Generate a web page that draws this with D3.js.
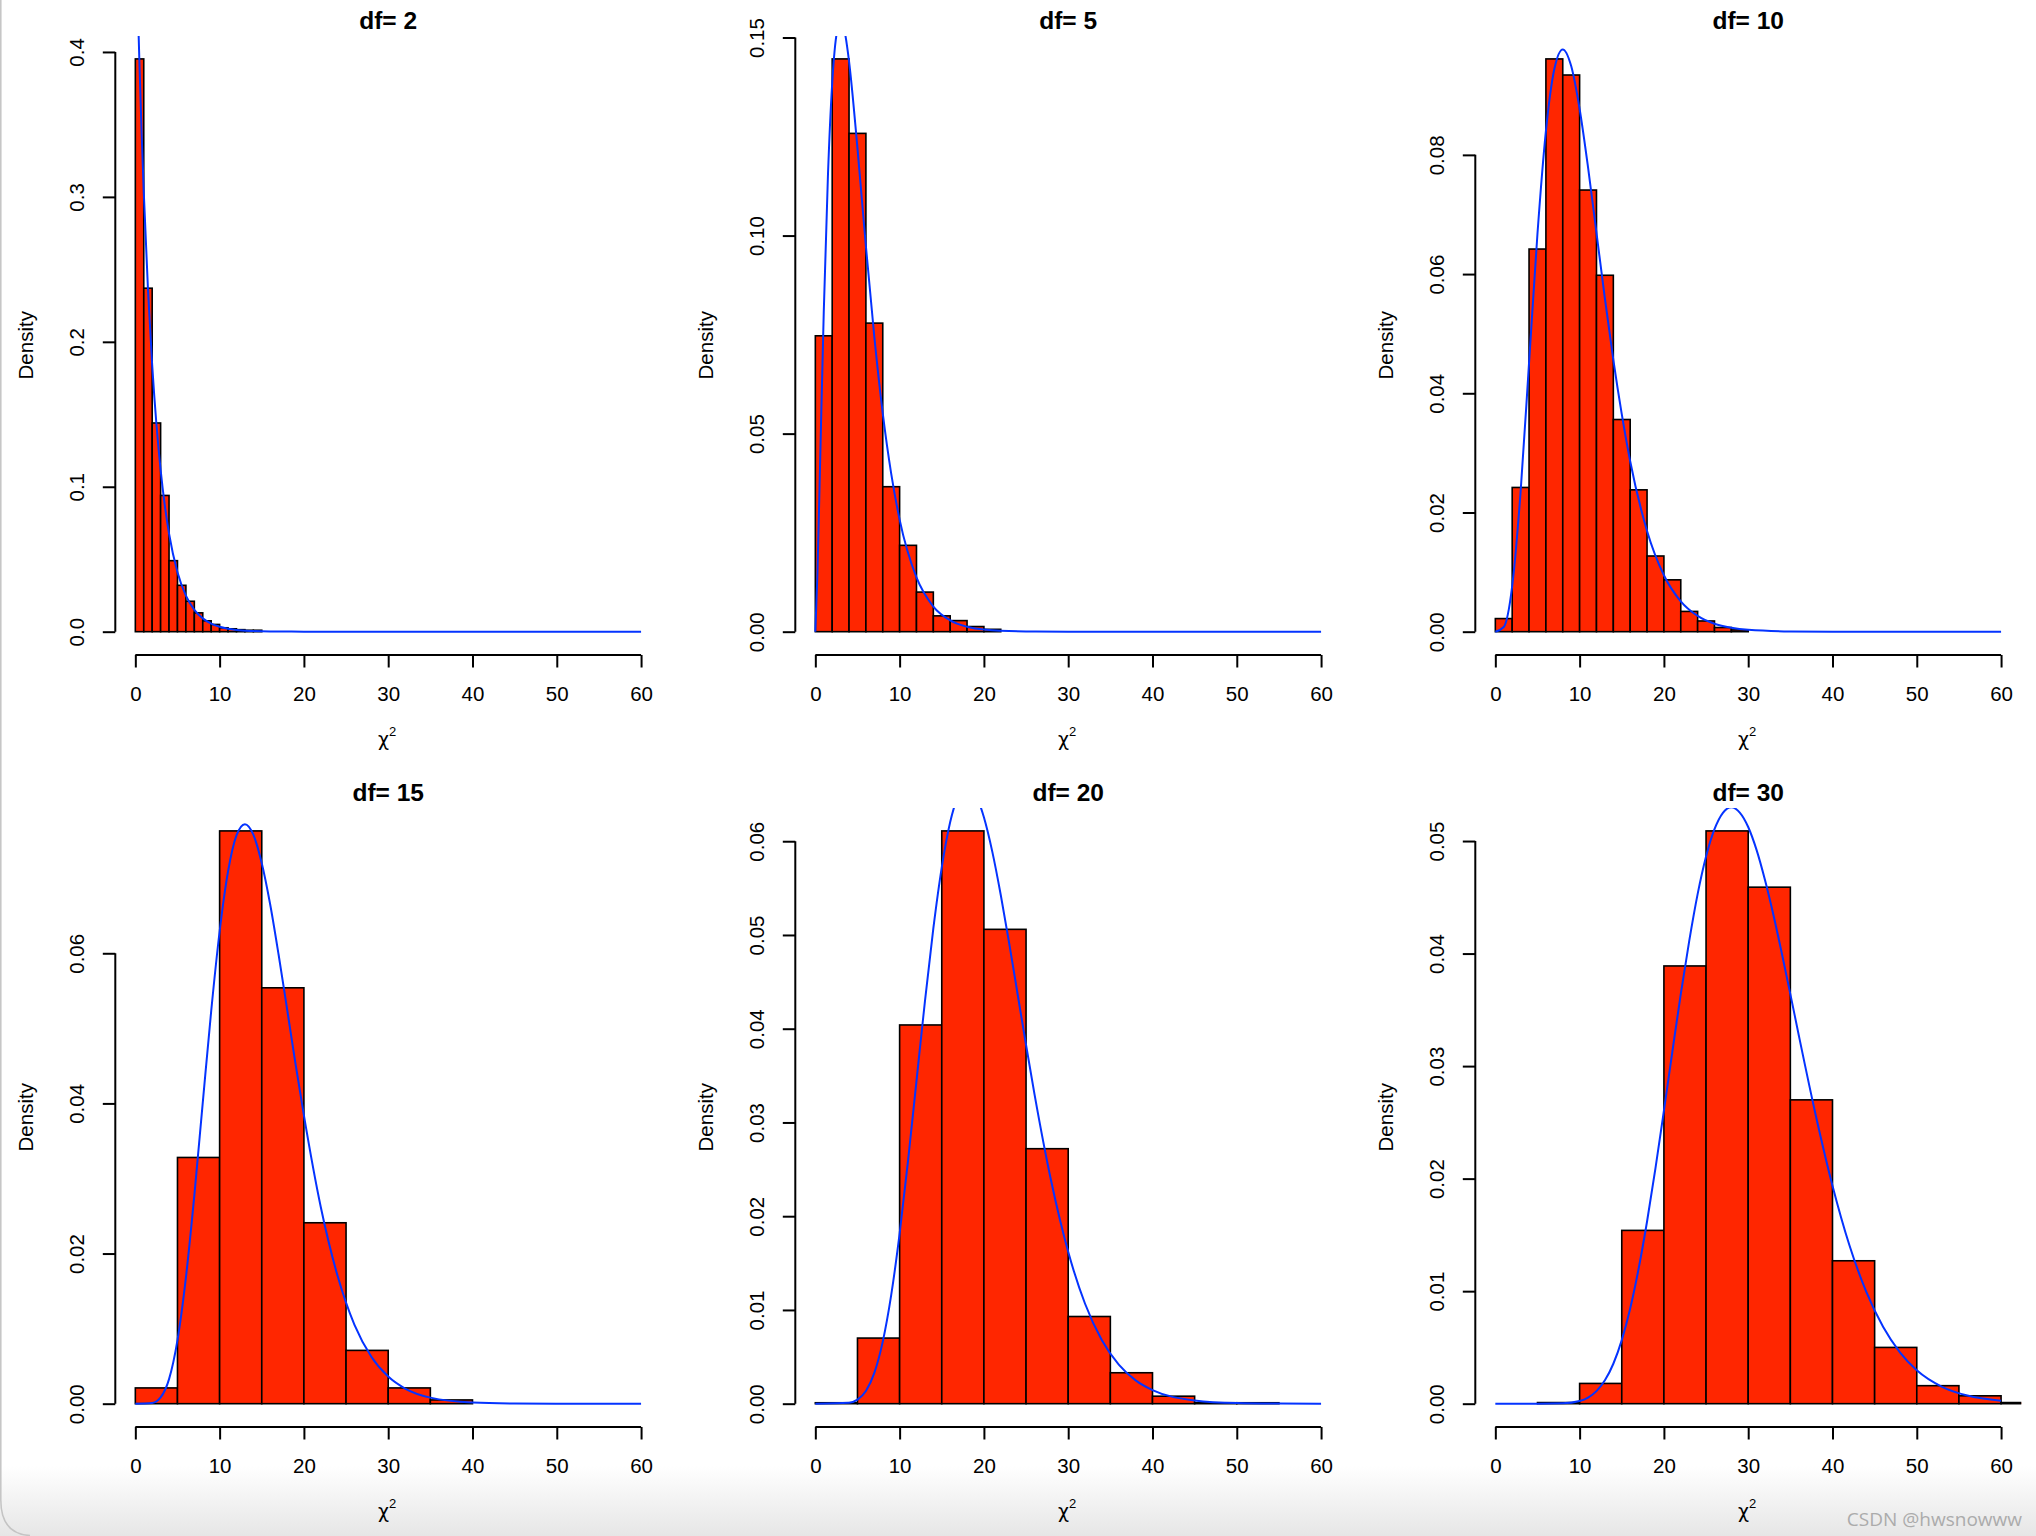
<!DOCTYPE html>
<html><head><meta charset="utf-8">
<script src="https://cdn.jsdelivr.net/npm/d3@7"></script>
<style>
html,body{margin:0;padding:0;background:#fff;}
svg{display:block;}
text{font-family:"Liberation Sans", Arial, Helvetica, sans-serif;}
</style></head><body>
<svg id="chart" width="2036" height="1536"></svg>
<script>
// ---------------- data ----------------
const dfValues = [2, 5, 10, 15, 20, 30];
const titles = ["df= 2", "df= 5", "df= 10", "df= 15", "df= 20", "df= 30"];
const xTicks = [0, 10, 20, 30, 40, 50, 60];
const xLabel = "χ";
const xLabelSup = "2";
const yLabel = "Density";
const watermark = "CSDN @hwsnowww";

// df = 2
const breaks_df2 = [0,1,2,3,4,5,6,7,8,9,10,11,12,13,14,15];
const density_df2 = [0.3952,0.237,0.144,0.094,0.049,0.032,0.021,0.013,0.0075,0.005,0.0027,0.002,0.0014,0.001,0.001];
const curveX_df2 = [0,0.25,0.5,0.75,1,1.5,2,2.5,3,3.5,4,5,6,7,8,9,10,12,14,16,20,25,30,40,50,60];
const curveY_df2 = [0.5,0.4412,0.3894,0.3436,0.3033,0.2362,0.1839,0.1433,0.1116,0.0869,0.0677,0.0410,0.0249,0.0151,0.0092,0.0056,0.0034,0.0012,0.00046,0.00017,0.00002,0,0,0,0,0];
const yTicks_df2 = [0, 0.1, 0.2, 0.3, 0.4];
const yTickLabels_df2 = ["0.0","0.1","0.2","0.3","0.4"];

// df = 5
const breaks_df5 = [0,2,4,6,8,10,12,14,16,18,20,22];
const density_df5 = [0.0747,0.1446,0.1258,0.0779,0.0366,0.0218,0.0100,0.0040,0.0028,0.0013,0.0006];
const curveX_df5 = [0,0.25,0.5,1,1.5,2,2.5,3,3.5,4,5,6,7,8,9,10,12,14,16,18,20,25,30,40,60];
const curveY_df5 = [0,0.0147,0.0366,0.0807,0.1154,0.1384,0.1506,0.1542,0.1513,0.1440,0.1220,0.0973,0.0744,0.0551,0.0399,0.0283,0.0137,0.00635,0.00286,0.00125,0.00054,0.00006,0.000007,0,0];
const yTicks_df5 = [0, 0.05, 0.10, 0.15];
const yTickLabels_df5 = ["0.00","0.05","0.10","0.15"];

// df = 10
const breaks_df10 = [0,2,4,6,8,10,12,14,16,18,20,22,24,26,28,30];
const density_df10 = [0.0022,0.0242,0.0642,0.0961,0.0934,0.0741,0.0598,0.0356,0.0238,0.0127,0.0087,0.0034,0.0018,0.0007,0.0003];
const curveX_df10 = [0,1,2,3,4,5,6,7,8,9,10,11,12,13,14,15,16,18,20,22,24,26,28,30,35,40,60];
const curveY_df10 = [0,0.00079,0.00766,0.0235,0.0451,0.0668,0.0840,0.0944,0.0977,0.0949,0.0877,0.0779,0.0669,0.0559,0.0456,0.0365,0.0286,0.0169,0.00946,0.00509,0.00265,0.00134,0.00067,0.00032,0.00005,0.000005,0];
const yTicks_df10 = [0, 0.02, 0.04, 0.06, 0.08];
const yTickLabels_df10 = ["0.00","0.02","0.04","0.06","0.08"];

// df = 15
const breaks_df15 = [0,5,10,15,20,25,30,35,40];
const density_df15 = [0.0021,0.0328,0.0763,0.0554,0.0241,0.0071,0.0021,0.0005];
const curveX_df15 = [0,2,3,4,5,6,7,8,9,10,11,12,13,14,15,16,17,18,19,20,22,24,26,28,30,32,35,40,45,50,60];
const curveY_df15 = [0,0.0001,0.00083,0.00327,0.00847,0.0168,0.02775,0.0401,0.0523,0.0629,0.0709,0.0757,0.0772,0.0758,0.0720,0.0665,0.0598,0.0526,0.0453,0.0384,0.0262,0.0170,0.0105,0.00626,0.00361,0.00202,0.00081,0.00016,0.00003,0.000005,0];
const yTicks_df15 = [0, 0.02, 0.04, 0.06];
const yTickLabels_df15 = ["0.00","0.02","0.04","0.06"];

// df = 20
const breaks_df20 = [0,5,10,15,20,25,30,35,40,45,50,55];
const density_df20 = [0.0001,0.0070,0.0404,0.0611,0.0506,0.0272,0.0093,0.0033,0.0008,0.0001,0.0001];
const curveX_df20 = [0,4,5,6,7,8,9,10,11,12,13,14,15,16,17,18,19,20,21,22,23,24,25,26,28,30,32,34,36,38,40,45,50,55,60];
const curveY_df20 = [0,0.0001,0.00043,0.00135,0.00328,0.00662,0.01158,0.01813,0.02593,0.03442,0.0429,0.0507,0.05722,0.06204,0.06493,0.06588,0.0650,0.06255,0.05886,0.05426,0.0491,0.04368,0.03826,0.03303,0.02367,0.0162,0.01066,0.00676,0.00416,0.00249,0.00145,0.00035,0.00007,0.000014,0.0000025];
const yTicks_df20 = [0, 0.01, 0.02, 0.03, 0.04, 0.05, 0.06];
const yTickLabels_df20 = ["0.00","0.01","0.02","0.03","0.04","0.05","0.06"];

// df = 30
const breaks_df30 = [5,10,15,20,25,30,35,40,45,50,55,60,65];
const density_df30 = [0.0001,0.0018,0.0154,0.0389,0.0509,0.0459,0.0270,0.0127,0.0050,0.0016,0.0007,0.0001];
const curveX_df30 = [0,5,8,10,11,12,13,14,15,16,17,18,19,20,21,22,23,24,25,26,27,28,29,30,31,32,33,34,35,36,38,40,42,44,46,48,50,53,56,60];
const curveY_df30 = [0,0.0000002,0.000028,0.000236,0.000544,0.001114,0.002074,0.00355,0.00565,0.00846,0.0120,0.01619,0.02094,0.02604,0.03127,0.0364,0.04111,0.04528,0.04862,0.05105,0.05251,0.05300,0.05253,0.05125,0.04919,0.04651,0.04341,0.03998,0.0364,0.03274,0.02568,0.01937,0.0141,0.00996,0.00683,0.00456,0.00297,0.0015,0.00072,0.00026];
const yTicks_df30 = [0, 0.01, 0.02, 0.03, 0.04, 0.05];
const yTickLabels_df30 = ["0.00","0.01","0.02","0.03","0.04","0.05"];

// ---------------- layout ----------------
const panels = [
  {title: titles[0], breaks: breaks_df2,  dens: density_df2,  cx: curveX_df2,  cy: curveY_df2,  yt: yTicks_df2,  yl: yTickLabels_df2},
  {title: titles[1], breaks: breaks_df5,  dens: density_df5,  cx: curveX_df5,  cy: curveY_df5,  yt: yTicks_df5,  yl: yTickLabels_df5},
  {title: titles[2], breaks: breaks_df10, dens: density_df10, cx: curveX_df10, cy: curveY_df10, yt: yTicks_df10, yl: yTickLabels_df10},
  {title: titles[3], breaks: breaks_df15, dens: density_df15, cx: curveX_df15, cy: curveY_df15, yt: yTicks_df15, yl: yTickLabels_df15},
  {title: titles[4], breaks: breaks_df20, dens: density_df20, cx: curveX_df20, cy: curveY_df20, yt: yTicks_df20, yl: yTickLabels_df20},
  {title: titles[5], breaks: breaks_df30, dens: density_df30, cx: curveX_df30, cy: curveY_df30, yt: yTicks_df30, yl: yTickLabels_df30}
];

const colW = 680, rowH = 772;
const plotL = 115.1, plotR = 661.3, plotT = 36, plotB = 654.6;
const BAR_FILL = "#FF2600", LINE_COL = "#0433FF";
const FONT = '"Liberation Sans", Arial, Helvetica, sans-serif';

const svg = d3.select("#chart");
svg.append("rect").attr("width", 2036).attr("height", 1536).attr("fill", "#fff");

// bottom window gradient (screenshot)
const defs = svg.append("defs");
const grad = defs.append("linearGradient").attr("id", "bottomGrad").attr("x1", 0).attr("y1", 0).attr("x2", 0).attr("y2", 1);
grad.append("stop").attr("offset", "0%").attr("stop-color", "#ffffff");
grad.append("stop").attr("offset", "100%").attr("stop-color", "#e6e6e6");
svg.append("rect").attr("x", 0).attr("y", 1466).attr("width", 2036).attr("height", 70).attr("fill", "url(#bottomGrad)");

panels.forEach((p, i) => {
  const col = i % 3, row = Math.floor(i / 3);
  const g = svg.append("g").attr("transform", `translate(${col * colW},${row * rowH})`);
  const maxD = d3.max(p.dens);
  const x = d3.scaleLinear().domain([-2.4, 62.4]).range([plotL, plotR]);
  const y = d3.scaleLinear().domain([-0.04 * maxD, 1.04 * maxD]).range([plotB, plotT]);

  const clipId = "clip" + i;
  defs.append("clipPath").attr("id", clipId).append("rect")
    .attr("x", plotL).attr("y", plotT).attr("width", plotR - plotL).attr("height", plotB - plotT);

  const plot = g.append("g").attr("clip-path", `url(#${clipId})`);

  // bars
  const bins = p.dens.map((d, k) => ({x0: p.breaks[k], x1: p.breaks[k + 1], d}));
  plot.selectAll("rect.bar").data(bins).join("rect")
    .attr("class", "bar")
    .attr("x", b => x(b.x0))
    .attr("y", b => y(b.d))
    .attr("width", b => x(b.x1) - x(b.x0))
    .attr("height", b => y(0) - y(b.d))
    .attr("fill", BAR_FILL)
    .attr("stroke", "#000")
    .attr("stroke-width", 1.6);

  // density curve
  const pts = p.cx.map((v, k) => [v, p.cy[k]]);
  plot.append("path").datum(pts)
    .attr("d", d3.line().x(d => x(d[0])).y(d => y(d[1])).curve(d3.curveMonotoneX))
    .attr("fill", "none").attr("stroke", LINE_COL).attr("stroke-width", 2);

  // x axis
  const xAxis = d3.axisBottom(x).tickValues(xTicks).tickSize(12.5).tickSizeOuter(0).tickPadding(0);
  const xg = g.append("g").attr("transform", `translate(0,${plotB + 0.4})`).call(xAxis);
  xg.select(".domain").attr("d", `M${x(xTicks[0])},0H${x(xTicks[xTicks.length - 1])}`)
    .attr("stroke", "#000").attr("stroke-width", 2);
  xg.selectAll(".tick line").attr("stroke", "#000").attr("stroke-width", 2);
  xg.selectAll(".tick text").attr("y", 46).attr("dy", 0)
    .style("font-size", "20.5px").style("font-family", FONT).style("fill", "#000");

  // y axis
  const yAxis = d3.axisLeft(y).tickValues(p.yt).tickFormat((d, k) => p.yl[k]).tickSize(12.5).tickSizeOuter(0);
  const yg = g.append("g").attr("transform", `translate(${plotL + 0.2},0)`).call(yAxis);
  yg.select(".domain").attr("d", `M0,${y(p.yt[0])}V${y(p.yt[p.yt.length - 1])}`)
    .attr("stroke", "#000").attr("stroke-width", 2);
  yg.selectAll(".tick line").attr("stroke", "#000").attr("stroke-width", 2);
  yg.selectAll(".tick text")
    .attr("transform", "rotate(-90)")
    .attr("x", 0).attr("y", -31).attr("dy", 0)
    .attr("text-anchor", "middle")
    .style("font-size", "20.5px").style("font-family", FONT).style("fill", "#000");

  // title
  g.append("text").attr("x", (plotL + plotR) / 2).attr("y", 29)
    .attr("text-anchor", "middle").style("font-size", "24.5px").style("font-weight", "bold").style("fill", "#000")
    .text(p.title);

  // x label chi^2
  const xl = g.append("text").attr("x", (plotL + plotR) / 2 - 1).attr("y", 746)
    .attr("text-anchor", "middle").style("font-size", "20px").style("fill", "#000");
  xl.append("tspan").text(xLabel).style("font-family", '"DejaVu Sans", "Liberation Sans", sans-serif').style("font-size", "19px");
  xl.append("tspan").attr("dy", -10).style("font-size", "13px").text(xLabelSup);

  // y label
  g.append("text").attr("transform", `translate(33,${(plotT + plotB) / 2}) rotate(-90)`)
    .attr("text-anchor", "middle").style("font-size", "20.5px").style("fill", "#000").text(yLabel);
});

// watermark
svg.append("text").attr("x", 2022).attr("y", 1526).attr("text-anchor", "end")
  .style("font-family", '"Open Sans", "Noto Sans", sans-serif').style("font-size", "19px")
  .style("fill", "#ababab").text(watermark);

// window left border / rounded corner
svg.append("path").attr("d", "M0.8,0V1500Q0.8,1534 30,1535.5")
  .attr("fill", "none").attr("stroke", "#c4c4c4").attr("stroke-width", 1.5);
</script>
</body></html>
